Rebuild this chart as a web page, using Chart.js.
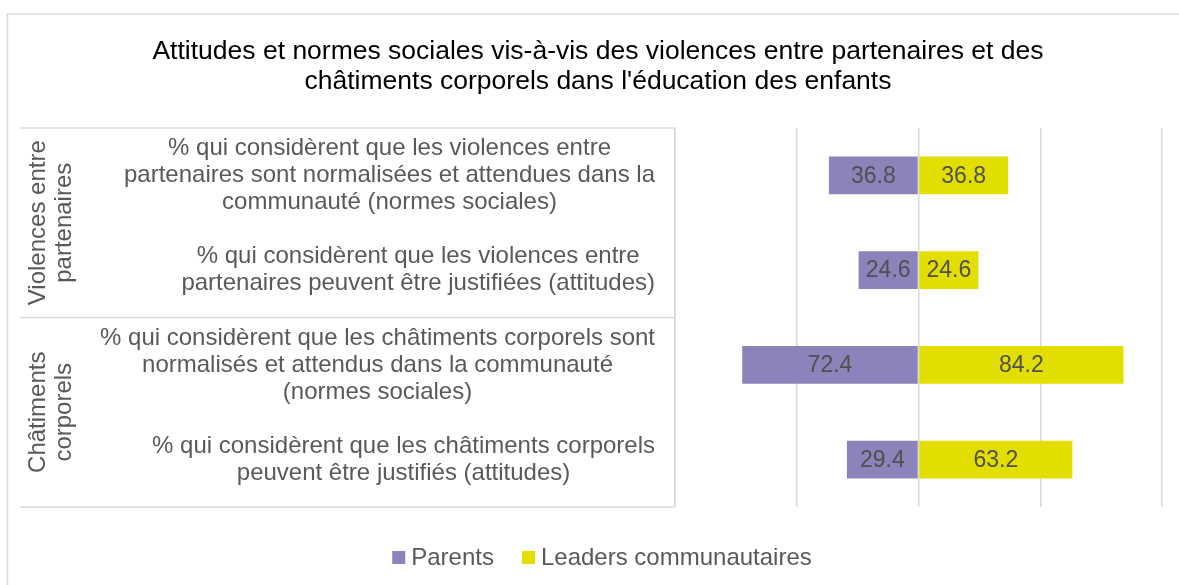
<!DOCTYPE html>
<html>
<head>
<meta charset="utf-8">
<script src="https://cdn.jsdelivr.net/npm/chart.js@4/dist/chart.umd.min.js"></script>
<style>
  html, body { margin: 0; padding: 0; background: #fff; }
  #wrap { width: 1179px; height: 585px; }
</style>
</head>
<body>
<div id="wrap"><canvas id="chart" width="1179" height="585"></canvas></div>
<script>
const titleLines = [
    "Attitudes et normes sociales vis-à-vis des violences entre partenaires et des",
    "châtiments corporels dans l'éducation des enfants"
];
// category labels, one array of lines per bar row
const categories = [
    ["% qui considèrent que les violences entre", "partenaires sont normalisées et attendues dans la", "communauté (normes sociales)"],
    ["% qui considèrent que les violences entre", "partenaires peuvent être justifiées (attitudes)"],
    ["% qui considèrent que les châtiments corporels sont", "normalisés et attendus dans la communauté", "(normes sociales)"],
    ["% qui considèrent que les châtiments corporels", "peuvent être justifiés (attitudes)"]
];
// outer group labels: lines + which rows they cover
const groupLabels = [["Violences entre", "partenaires"], ["Châtiments", "corporels"]];
const groupRows = [[0, 1], [2, 3]];

const seriesNames = ["Parents", "Leaders communautaires"];
const parents = [36.8, 24.6, 72.4, 29.4];
const leaders = [36.8, 24.6, 84.2, 63.2];
const xTicks = [-100, -50, 0, 50, 100];

const PURPLE = "#8b83b9";
const YELLOW = "#e2de00";
const LINE = "#d9d9d9";
const FONT = "'Liberation Sans', Arial, sans-serif";

const tablePlugin = {
    id: "tableText",
    afterDraw(chart) {
        const ctx = chart.ctx;
        const area = chart.chartArea;
        const y = chart.scales.y;
        ctx.save();

        // outer chart border (right/bottom edges fall off the picture)
        ctx.strokeStyle = LINE;
        ctx.lineWidth = 1.5;
        ctx.strokeRect(7.5, 14, 1200, 600);

        // title
        ctx.fillStyle = "#000";
        ctx.font = "26.5px " + FONT;
        ctx.textAlign = "center";
        ctx.textBaseline = "middle";
        titleLines.forEach((t, i) => ctx.fillText(t, 598, 52 + i * 30));

        // table lines around the category labels
        const step = y.getPixelForValue(1) - y.getPixelForValue(0);
        ctx.beginPath();
        ctx.moveTo(20, area.top); ctx.lineTo(area.left, area.top);
        groupRows.forEach(rows => {
            const yb = y.getPixelForValue(rows[rows.length - 1]) + step / 2;
            ctx.moveTo(20, yb); ctx.lineTo(area.left, yb);
        });
        ctx.moveTo(area.left, area.top); ctx.lineTo(area.left, area.bottom);
        ctx.stroke();

        // category labels: block right aligned, lines centered
        ctx.fillStyle = "#595959";
        ctx.font = "24px " + FONT;
        categories.forEach((lines, i) => {
            const w = Math.max(...lines.map(l => ctx.measureText(l).width));
            const cx = 655 - w / 2;
            const cy = y.getPixelForValue(i);
            lines.forEach((l, j) => {
                ctx.fillText(l, cx, cy + (j - (lines.length - 1) / 2) * 27);
            });
        });

        // group labels, rotated
        groupLabels.forEach((lines, g) => {
            const rows = groupRows[g];
            const cy = (y.getPixelForValue(rows[0]) + y.getPixelForValue(rows[rows.length - 1])) / 2;
            ctx.save();
            ctx.translate(51, cy);
            ctx.rotate(-Math.PI / 2);
            lines.forEach((l, j) => ctx.fillText(l, 0, (j - (lines.length - 1) / 2) * 26));
            ctx.restore();
        });

        // value labels in the bars
        ctx.font = "23px " + FONT;
        ctx.fillStyle = "#505050";
        chart.data.datasets.forEach((ds, di) => {
            chart.getDatasetMeta(di).data.forEach((bar, i) => {
                const mid = (bar.x + bar.base) / 2;
                ctx.fillText(Math.abs(ds.data[i]).toFixed(1), mid, bar.y + 1);
            });
        });

        // legend
        ctx.font = "24px " + FONT;
        ctx.textAlign = "left";
        const colors = [PURPLE, YELLOW];
        const widths = seriesNames.map(n => 13 + 6 + ctx.measureText(n).width);
        const total = widths.reduce((a, b) => a + b, 0) + 28 * (seriesNames.length - 1);
        let lx = 602 - total / 2;
        seriesNames.forEach((n, i) => {
            ctx.fillStyle = colors[i];
            ctx.fillRect(lx, 551, 13, 13);
            ctx.fillStyle = "#595959";
            ctx.fillText(n, lx + 19, 558);
            lx += widths[i] + 28;
        });
        ctx.restore();
    }
};

const ctx = document.getElementById("chart").getContext("2d");
const myChart = new Chart(ctx, {
    type: "bar",
    data: {
        labels: categories.map((c, i) => "row" + i),
        datasets: [
            { label: seriesNames[0], data: parents.map(v => -v), backgroundColor: PURPLE },
            { label: seriesNames[1], data: leaders, backgroundColor: YELLOW }
        ]
    },
    options: {
        indexAxis: "y",
        responsive: false,
        animation: false,
        devicePixelRatio: 1,
        barPercentage: 0.4,
        categoryPercentage: 1,
        layout: { padding: { left: 675, right: 17, top: 128, bottom: 78 } },
        plugins: { legend: { display: false }, title: { display: false }, tooltip: { enabled: false } },
        scales: {
            x: {
                stacked: true,
                min: xTicks[0],
                max: xTicks[xTicks.length - 1],
                afterBuildTicks: scale => { scale.ticks = xTicks.map(v => ({ value: v })); },
                ticks: { display: false },
                grid: { color: LINE, lineWidth: 1.5, drawTicks: false, tickLength: 0 },
                border: { display: false }
            },
            y: { stacked: true, display: false }
        }
    },
    plugins: [tablePlugin]
});
</script>
</body>
</html>
